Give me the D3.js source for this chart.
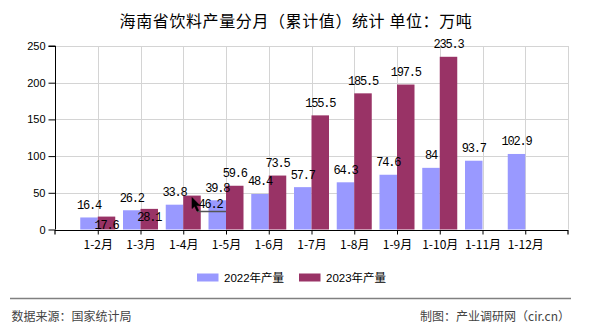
<!DOCTYPE html>
<html>
<head>
<meta charset="utf-8">
<script src="https://cdn.jsdelivr.net/npm/d3@7/dist/d3.min.js"></script>
<style>
  html, body { margin: 0; padding: 0; background: #fff; }
  svg { display: block; }
</style>
</head>
<body>
<svg id="chart" width="590" height="330"></svg>
<script>
// Chart data
const title = "海南省饮料产量分月（累计值）统计 单位：万吨";
const categories = ["1-2月", "1-3月", "1-4月", "1-5月", "1-6月", "1-7月", "1-8月", "1-9月", "1-10月", "1-11月", "1-12月"];
const seriesNames = ["2022年产量", "2023年产量"];
const values2022 = [16.4, 26.2, 33.8, 39.8, 48.4, 57.7, 64.3, 74.6, 84, 93.7, 102.9];
const values2023 = [17.6, 28.1, 46.2, 59.6, 73.5, 155.5, 185.5, 197.5, 235.3];
const yTicks = [0, 50, 100, 150, 200, 250];
const sourceText = "数据来源：国家统计局";
const creditText = "制图：产业调研网（cir.cn）";

// Styling
const colors = ["#9999ff", "#993366"];
const cjk = "'Noto Sans CJK SC', 'Noto Sans', sans-serif";
const sans = "'Liberation Sans', Arial, 'Noto Sans CJK SC', sans-serif";
const mono = "'Liberation Mono', 'DejaVu Sans Mono', monospace";

// Labels that sit inside the bar top or get pulled aside with a leader
const labelMode = { "1-0": "inside", "1-1": "inside", "1-2": "leader" };

const svg = d3.select("#chart");
const plot = { left: 55, right: 568, top: 46, bottom: 229.5 };

const x = d3.scalePoint().domain(categories).range([plot.left, plot.right]).padding(1);
const inner = d3.scaleBand().domain(seriesNames).range([-17.5, 17.5]).padding(0);
const y = d3.scaleLinear().domain([0, 250]).range([plot.bottom, plot.top]);

// Title
svg.append("text")
  .attr("x", 296).attr("y", 27)
  .attr("text-anchor", "middle")
  .attr("font-family", cjk).attr("font-size", 16).attr("letter-spacing", 0.6)
  .attr("fill", "#000")
  .text(title);

// Grid
const grid = svg.append("g").attr("stroke", "#d4d4d4").attr("stroke-width", 1);
grid.selectAll("line.h").data(yTicks.filter(d => d > 0)).join("line")
  .attr("x1", plot.left).attr("x2", plot.right)
  .attr("y1", d => Math.round(y(d)) + 0.5).attr("y2", d => Math.round(y(d)) + 0.5);
grid.selectAll("line.v").data(categories.map(c => x(c)).concat([plot.right])).join("line")
  .attr("x1", d => Math.round(d) + 0.5).attr("x2", d => Math.round(d) + 0.5)
  .attr("y1", plot.top).attr("y2", plot.bottom);

// Bars
const series = [values2022, values2023];
series.forEach((vals, s) => {
  svg.append("g").attr("fill", colors[s])
    .selectAll("rect").data(vals).join("rect")
    .attr("x", (d, i) => x(categories[i]) + inner(seriesNames[s]))
    .attr("width", inner.bandwidth())
    .attr("y", d => y(d))
    .attr("height", d => y(0) - y(d));
});

// Y axis
const yAxis = d3.axisLeft(y).tickValues(yTicks).tickSize(7).tickPadding(3);
const gy = svg.append("g").attr("transform", `translate(${plot.left + 0.5},0)`).call(yAxis);
gy.select(".domain").attr("stroke", "#000").attr("d", `M-7,${y(250)}H0V${y(0)}`);
gy.selectAll(".tick line").attr("stroke", "#000");
gy.selectAll(".tick text").attr("font-family", sans).attr("font-size", 11).attr("fill", "#000");

// X axis
const xAxis = d3.axisBottom(x).tickSize(4).tickPadding(4);
const gx = svg.append("g").attr("transform", `translate(0,${Math.round(y(0)) + 0.5})`).call(xAxis);
gx.select(".domain").attr("stroke", "#000").attr("stroke-width", 1.2).attr("d", `M${plot.left},4V0H${plot.right}V4`);
gx.selectAll(".tick line").attr("stroke", "#000");
gx.selectAll(".tick text").attr("font-family", cjk).attr("font-size", 12).attr("fill", "#000").attr("dy", "0.85em");

// Value labels
const labels = svg.append("g")
  .attr("font-family", mono).attr("font-size", 12).attr("letter-spacing", -1.2)
  .attr("fill", "#000").attr("text-anchor", "middle");
series.forEach((vals, s) => {
  vals.forEach((v, i) => {
    const cx = x(categories[i]) + inner(seriesNames[s]) + inner.bandwidth() / 2;
    const top = y(v);
    const mode = labelMode[`${s}-${i}`];
    if (mode === "inside") {
      labels.append("text").attr("x", cx).attr("y", top + 12.5).text(v);
    } else if (mode === "leader") {
      const lx = cx + 18.5, ly = top + 12.5;
      labels.append("text").attr("x", lx).attr("y", ly).text(v);
      svg.append("path")
        .attr("d", `M${cx + 0.5},${top + 3}L${cx + 6},${top + 16}H${cx + 34}`)
        .attr("fill", "none").attr("stroke", "#555").attr("stroke-width", 1.5);
      svg.append("path")
        .attr("d", `M${cx},${top + 2}l0,11l2.6,-2.4l2.4,5l1.6,-0.8l-2.3,-4.8l3.6,0z`)
        .attr("fill", "#000").attr("stroke", "#000").attr("stroke-width", 0.6);
    } else {
      labels.append("text").attr("x", cx).attr("y", top - 8.5).text(v);
    }
  });
});

// Legend
const legend = svg.append("g");
const legendX = [197, 299];
seriesNames.forEach((name, s) => {
  legend.append("rect").attr("x", legendX[s]).attr("y", 273.5).attr("width", 21.5).attr("height", 8).attr("fill", colors[s]);
  legend.append("text").attr("x", legendX[s] + 27).attr("y", 281.5)
    .attr("font-family", sans).attr("font-size", 11.5).attr("fill", "#000").text(name);
});

// Footer
svg.append("line").attr("x1", 10).attr("x2", 571).attr("y1", 298.5).attr("y2", 298.5)
  .attr("stroke", "#808080").attr("stroke-width", 1.5);
svg.append("text").attr("x", 11.5).attr("y", 321)
  .attr("font-family", cjk).attr("font-size", 12).attr("fill", "#444").text(sourceText);
svg.append("text").attr("x", 570).attr("y", 321).attr("text-anchor", "end")
  .attr("font-family", cjk).attr("font-size", 12).attr("fill", "#444").text(creditText);
</script>
</body>
</html>
